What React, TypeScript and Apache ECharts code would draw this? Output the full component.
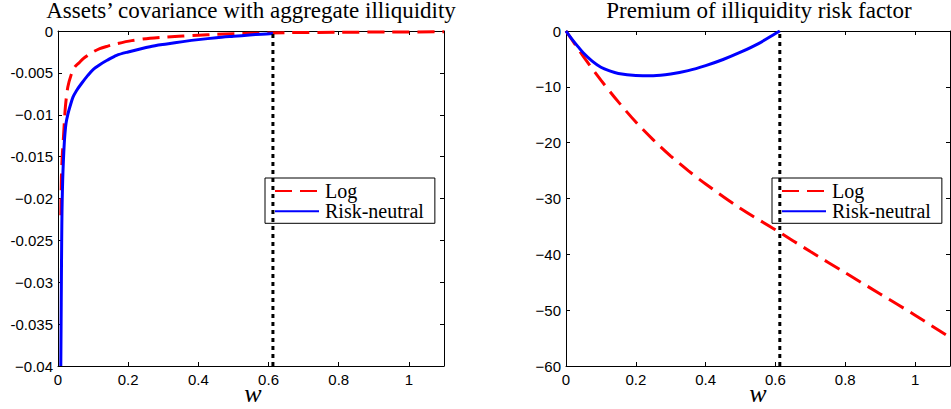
import React, { useEffect, useRef } from "react";
import * as echarts from "echarts";

// ---------- data ----------
// Left panel: assets' covariance with aggregate illiquidity
const wLeftLog = [0.008, 0.0097, 0.012, 0.0154, 0.021, 0.028, 0.037, 0.0475, 0.06, 0.072, 0.085, 0.1, 0.119, 0.142, 0.167, 0.21, 0.262, 0.31, 0.356, 0.4, 0.451, 0.55, 0.65, 0.8, 0.95, 1.1];
const vLeftLog = [-0.022, -0.0175, -0.015, -0.0128, -0.0091, -0.0067, -0.0053, -0.0043, -0.0038, -0.0033, -0.0029, -0.0025, -0.0021, -0.0018, -0.00152, -0.00115, -0.00087, -0.00072, -0.0006, -0.0005, -0.0004, -0.00028, -0.0002, -0.00015, -0.00012, -0.0001];
const wLeftRN = [0.008, 0.0088, 0.0096, 0.0105, 0.0114, 0.0126, 0.0142, 0.0165, 0.019, 0.023, 0.0284, 0.035, 0.0427, 0.053, 0.0665, 0.085, 0.1, 0.12, 0.14, 0.167, 0.2, 0.262, 0.31, 0.356, 0.4, 0.451, 0.5, 0.546, 0.58, 0.6125];
const vLeftRN = [-0.04, -0.035, -0.03, -0.025, -0.0215, -0.019, -0.0167, -0.0145, -0.0127, -0.011, -0.0099, -0.0089, -0.0079, -0.0071, -0.0063, -0.0053, -0.0046, -0.004, -0.0035, -0.0029, -0.0025, -0.00187, -0.00155, -0.00127, -0.00103, -0.0008, -0.00063, -0.00048, -0.00038, -0.0003];

// Right panel: premium of illiquidity risk factor
const wRightLog = [0, 0.025, 0.05, 0.1, 0.15, 0.2, 0.25, 0.3, 0.35, 0.4, 0.5, 0.6, 0.7, 0.8, 0.9, 1.0, 1.1];
const vRightLog = [0, -2.3, -4.6, -8.8, -12.7, -16.3, -19.5, -22.4, -25.0, -27.4, -31.8, -35.6, -39.5, -43.3, -47.1, -50.9, -54.9];
const wRightRN = [0, 0.011, 0.022, 0.035, 0.05, 0.075, 0.1, 0.125, 0.15, 0.2, 0.25, 0.3, 0.35, 0.4, 0.45, 0.5, 0.55, 0.6, 0.6125];
const vRightRN = [0, -0.95, -1.85, -2.85, -3.95, -5.4, -6.5, -7.15, -7.6, -7.95, -8.0, -7.7, -7.1, -6.2, -5.1, -3.8, -2.3, -0.45, 0];

const threshold = 0.6125;

const xTicks = [0, 0.2, 0.4, 0.6, 0.8, 1];
const xTickLabels = ["0", "0.2", "0.4", "0.6", "0.8", "1"];
const yLeftTicks = [0, -0.005, -0.01, -0.015, -0.02, -0.025, -0.03, -0.035, -0.04];
const yLeftTickLabels = ["0", "-0.005", "\u22120.01", "-0.015", "\u22120.02", "-0.025", "\u22120.03", "-0.035", "\u22120.04"];
const yRightTicks = [0, -10, -20, -30, -40, -50, -60];
const yRightTickLabels = ["0", "\u221210", "\u221220", "\u221230", "\u221240", "\u221250", "\u221260"];

const seriesNames = ["Log", "Risk-neutral"];
const titles = ["Assets\u2019 covariance with aggregate illiquidity", "Premium of illiquidity risk factor"];
const xName = "w";

const zip = (xs: number[], ys: number[]) => xs.map((x, i) => [x, ys[i]]);
const labelFor = (ticks: number[], labels: string[]) => (v: number) => {
  const i = ticks.findIndex((t) => Math.abs(t - v) < 1e-9);
  return i >= 0 ? labels[i] : "";
};

const SANS = "Liberation Sans";
const SERIF = "Liberation Serif";

export default function App() {
  const ref = useRef<HTMLDivElement>(null);

  useEffect(() => {
    if (!ref.current) return;
    const chart = echarts.init(ref.current, undefined, { renderer: "svg" });

    const axisLine = { show: true, onZero: false, lineStyle: { color: "#000", width: 1 } };
    const tickStyle = { color: "#000", width: 1 };
    const labelStyle = { fontFamily: SANS, fontSize: 15, color: "#000" };

    const xAx = (grid: number, pos: "bottom" | "top") => ({
      type: "value",
      gridIndex: grid,
      position: pos,
      min: 0,
      max: 1.1,
      interval: 0.2,
      axisLine,
      axisTick: { show: true, inside: true, length: 4, customValues: xTicks, lineStyle: tickStyle },
      axisLabel: {
        show: pos === "bottom",
        customValues: xTicks,
        formatter: labelFor(xTicks, xTickLabels),
        margin: 6,
        ...labelStyle,
      },
      splitLine: { show: false },
    });

    const yAx = (grid: number, pos: "left" | "right", ticks: number[], labels: string[], min: number, interval: number) => ({
      type: "value",
      gridIndex: grid,
      position: pos,
      min,
      max: 0,
      interval,
      axisLine,
      axisTick: { show: true, inside: true, length: 4, customValues: ticks, lineStyle: tickStyle },
      axisLabel: {
        show: pos === "left",
        customValues: ticks,
        formatter: labelFor(ticks, labels),
        margin: 5,
        ...labelStyle,
      },
      splitLine: { show: false },
    });

    const logStyle = { color: "#ff0000", width: 3, type: [17, 8] as number[], cap: "butt" };
    const rnStyle = { color: "#0000ff", width: 3, type: "solid" };
    const dotStyle = { color: "#000", width: 3, type: [4, 4] as number[], cap: "butt" };

    const mkSeries = (xi: number, yi: number, logData: number[][], rnData: number[][], yMin: number) => [
      {
        name: seriesNames[0],
        type: "line",
        xAxisIndex: xi,
        yAxisIndex: yi,
        data: logData,
        symbol: "none",
        showSymbol: false,
        smooth: 0.3,
        lineStyle: logStyle,
        itemStyle: { color: "#ff0000" },
        z: 2,
      },
      {
        name: seriesNames[1],
        type: "line",
        xAxisIndex: xi,
        yAxisIndex: yi,
        data: rnData,
        symbol: "none",
        showSymbol: false,
        smooth: 0.3,
        lineStyle: rnStyle,
        itemStyle: { color: "#0000ff" },
        z: 3,
      },
      {
        name: "threshold",
        type: "line",
        xAxisIndex: xi,
        yAxisIndex: yi,
        data: [
          [threshold, yMin],
          [threshold, 0],
        ],
        symbol: "none",
        showSymbol: false,
        lineStyle: dotStyle,
        itemStyle: { color: "#000" },
        z: 4,
      },
    ];

    const legendCommon = {
      orient: "vertical",
      top: 178,
      data: seriesNames,
      selectedMode: false,
      itemWidth: 44,
      itemHeight: 14,
      itemGap: 0.3,
      padding: [3, 11, 2, 9],
      backgroundColor: "#fff",
      borderColor: "#000",
      borderWidth: 1,
      borderRadius: 0,
      itemStyle: { color: "rgba(0,0,0,0)", borderWidth: 0, opacity: 0 },
      textStyle: { fontFamily: SERIF, fontSize: 20, lineHeight: 18, color: "#000", padding: [0, 0, 0, 1] },
    };

    const titleEl = (text: string, x: number, top: number, size: number, lineHeight: number, italic = false) => ({
      text,
      left: x,
      top,
      textAlign: "center",
      padding: 0,
      itemGap: 0,
      textStyle: {
        fontFamily: SERIF,
        fontSize: size,
        fontStyle: italic ? "italic" : "normal",
        fontWeight: "normal",
        color: "#000",
        lineHeight,
      },
    });

    chart.setOption({
      animation: false,
      backgroundColor: "#fff",
      title: [
        titleEl(titles[0], 251, 0, 23, 21),
        titleEl(titles[1], 759, 0, 23, 21),
        titleEl(xName, 253, 380, 26, 26, true),
        titleEl(xName, 758, 380, 26, 26, true),
      ],
      grid: [
        { left: 58, top: 31, width: 386, height: 335 },
        { left: 566, top: 31, width: 384, height: 335 },
      ],
      xAxis: [xAx(0, "bottom"), xAx(0, "top"), xAx(1, "bottom"), xAx(1, "top")],
      yAxis: [
        yAx(0, "left", yLeftTicks, yLeftTickLabels, -0.04, 0.005),
        yAx(0, "right", yLeftTicks, yLeftTickLabels, -0.04, 0.005),
        yAx(1, "left", yRightTicks, yRightTickLabels, -60, 10),
        yAx(1, "right", yRightTicks, yRightTickLabels, -60, 10),
      ],
      legend: [
        { ...legendCommon, left: 265 },
        { ...legendCommon, left: 772 },
      ],
      series: [
        ...mkSeries(0, 0, zip(wLeftLog, vLeftLog), zip(wLeftRN, vLeftRN), -0.04),
        ...mkSeries(2, 2, zip(wRightLog, vRightLog), zip(wRightRN, vRightRN), -60),
      ],
    });

    return () => chart.dispose();
  }, []);

  return (
    <div
      ref={ref}
      style={{ position: "fixed", left: 0, top: 0, width: 951, height: 409, background: "#fff" }}
    />
  );
}
